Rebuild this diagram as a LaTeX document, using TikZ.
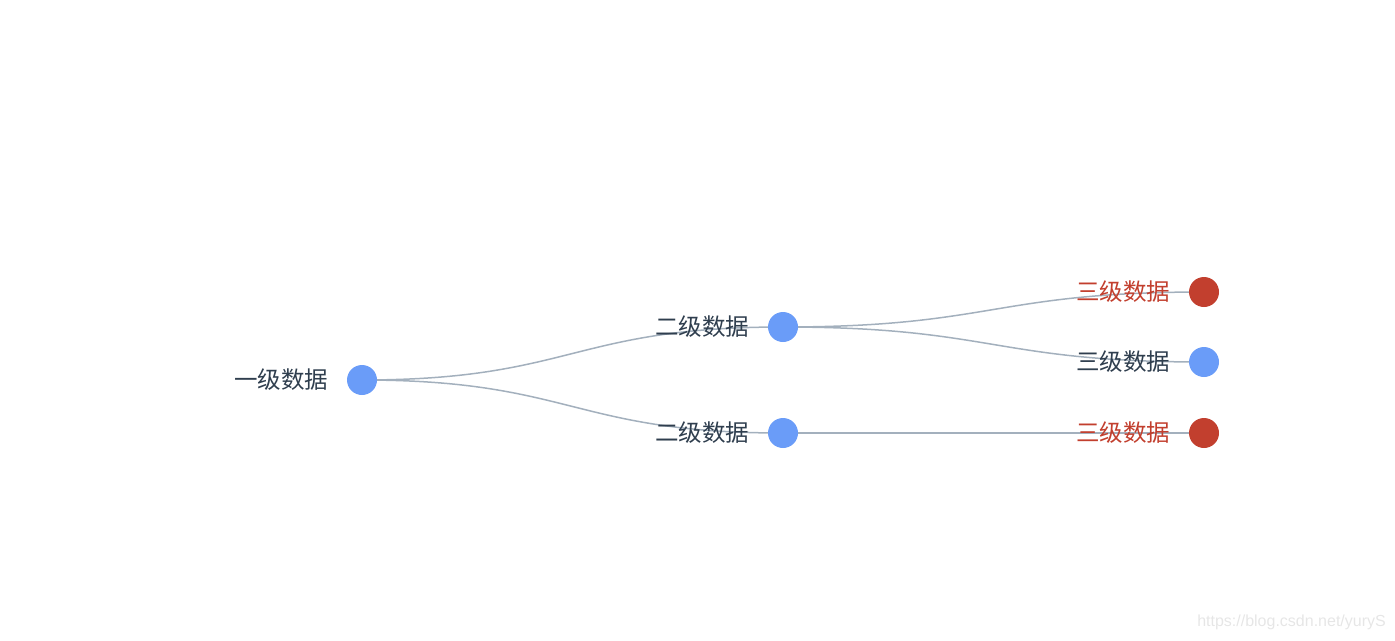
\documentclass[tikz,border=0pt]{standalone}
\usepackage{fontspec}
\newfontfamily\cjk{Noto Sans CJK SC}
\newfontfamily\wm{Liberation Sans}
\definecolor{nodeblue}{HTML}{6A9CF8}
\definecolor{nodered}{HTML}{C23F2E}
\definecolor{edgegray}{HTML}{A3B0BD}
\definecolor{txt}{HTML}{2F3E4E}
\definecolor{wmgray}{HTML}{E6E6E6}
\tikzset{
  dot/.style={circle,fill=nodeblue,minimum size=30pt,inner sep=0pt},
  reddot/.style={dot,fill=nodered},
  lbl/.style={anchor=east,font=\cjk\fontsize{23.5}{25}\selectfont,text=txt,inner sep=0pt},
  redlbl/.style={lbl,text=nodered},
  edge/.style={draw=edgegray,line width=1.5pt},
}
\begin{document}
\begin{tikzpicture}[x=1pt,y=-1pt]
\useasboundingbox (0,0) rectangle (1395,640);
% nodes (positions)
\coordinate (r) at (362,380);
\coordinate (a) at (783,327);
\coordinate (b) at (783,433);
\coordinate (c) at (1204,292);
\coordinate (d) at (1204,362);
\coordinate (e) at (1204,433);
% edges
\draw[edge] (r) .. controls (572.5,380) and (572.5,327) .. (a);
\draw[edge] (r) .. controls (572.5,380) and (572.5,433) .. (b);
\draw[edge] (a) .. controls (993.5,327) and (993.5,292) .. (c);
\draw[edge] (a) .. controls (993.5,327) and (993.5,362) .. (d);
\draw[edge] (b) .. controls (993.5,433) and (993.5,433) .. (e);
% circles
\node[dot] (rn) at (r) {};
\node[dot] (an) at (a) {};
\node[dot] (bn) at (b) {};
\node[reddot] (cn) at (c) {};
\node[dot] (dn) at (d) {};
\node[reddot] (en) at (e) {};
% labels
\node[lbl] (rl) at (328.5,380) {一级数据};
\node[lbl] (al) at (749.5,327) {二级数据};
\node[lbl] (bl) at (749.5,433) {二级数据};
\node[redlbl] (cl) at (1170.5,292) {三级数据};
\node[lbl] (dl) at (1170.5,362) {三级数据};
\node[redlbl] (el) at (1170.5,433) {三级数据};
% watermark
\node[anchor=east,inner sep=0pt,font=\wm\fontsize{16}{18}\selectfont,text=wmgray] (wm) at (1386,622) {https://blog.csdn.net/yuryS};
\end{tikzpicture}
\end{document}
